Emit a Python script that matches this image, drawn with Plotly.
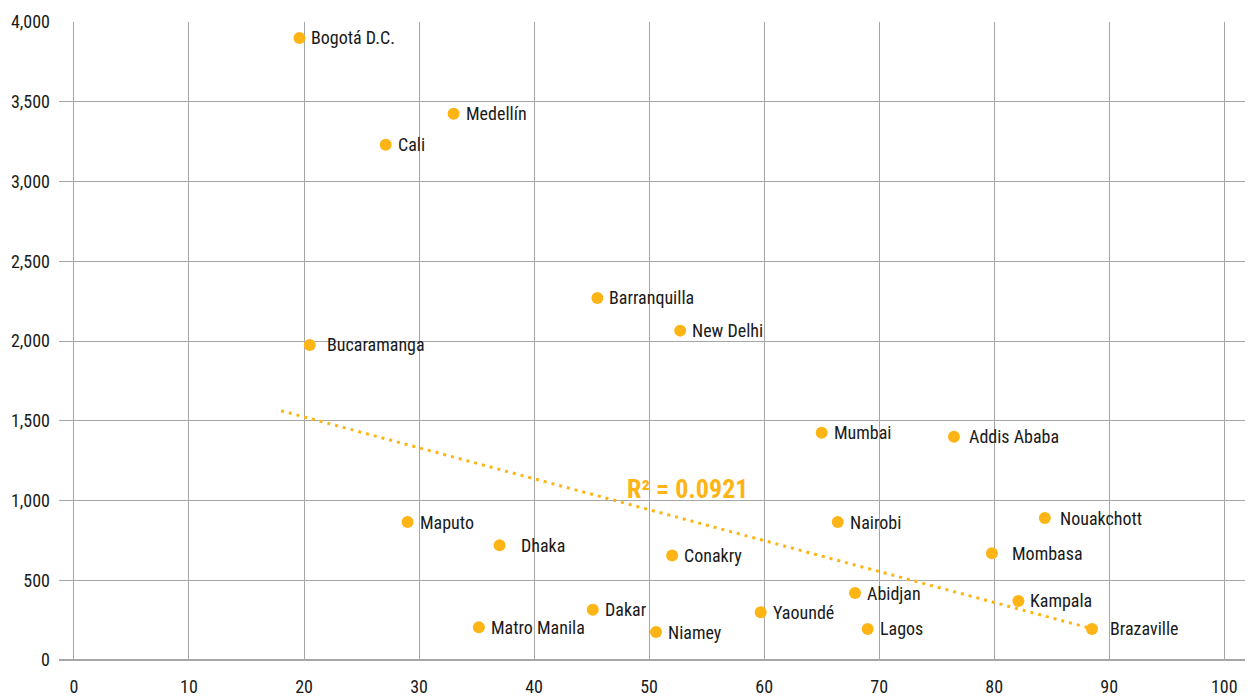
import plotly.graph_objects as go

cities = ["Bogotá D.C.", "Medellín", "Cali", "Barranquilla", "New Delhi", "Bucaramanga",
          "Mumbai", "Addis Ababa", "Maputo", "Nairobi", "Nouakchott", "Dhaka", "Conakry",
          "Mombasa", "Abidjan", "Kampala", "Dakar", "Yaoundé", "Matro Manila", "Niamey",
          "Lagos", "Brazaville"]
x_vals = [19.6, 33.0, 27.1, 45.5, 52.7, 20.5, 65.0, 76.5, 29.0, 66.4, 84.4, 37.0, 52.0,
          79.8, 67.9, 82.1, 45.1, 59.7, 35.2, 50.6, 69.0, 88.5]
y_vals = [3900, 3425, 3230, 2270, 2065, 1975, 1425, 1400, 865, 865, 890, 720, 655,
          670, 420, 370, 315, 300, 205, 175, 195, 195]
x_ticks = [0, 10, 20, 30, 40, 50, 60, 70, 80, 90, 100]
y_ticks = [0, 500, 1000, 1500, 2000, 2500, 3000, 3500, 4000]
trend_x = [18.0, 88.5]
trend_y = [1563, 196]
r2_label = "R² = 0.0921"

# label offsets (pixels) to the right of each marker
label_shift = {"Dhaka": 19, "Bucaramanga": 15, "Brazaville": 16, "Mombasa": 18,
               "Addis Ababa": 13, "Nouakchott": 13}

ORANGE = "#FDB515"
FONT = "Roboto Condensed, Liberation Sans Narrow, Roboto, sans-serif"

fig = go.Figure()
fig.add_trace(go.Scatter(x=trend_x, y=trend_y, mode="lines",
                         line=dict(color=ORANGE, width=3, dash="3px,5px"),
                         hoverinfo="skip", showlegend=False))
fig.add_trace(go.Scatter(x=x_vals, y=y_vals, mode="markers",
                         marker=dict(color=ORANGE, size=12),
                         text=cities, showlegend=False))

for c, xv, yv in zip(cities, x_vals, y_vals):
    fig.add_annotation(x=xv, y=yv, text=c, showarrow=False, xanchor="left",
                       yanchor="middle", xshift=label_shift.get(c, 10),
                       font=dict(family=FONT, size=18, color="#1a1a1a"))

fig.add_annotation(x=53.3, y=1072, text=r2_label, showarrow=False,
                   font=dict(family=FONT, size=26, color=ORANGE, weight="bold"))

fig.update_layout(
    width=1251, height=696,
    margin=dict(l=59, r=6, t=22, b=36, autoexpand=False),
    plot_bgcolor="white", paper_bgcolor="white",
    font=dict(family=FONT, size=18, color="#1a1a1a"),
)
fig.update_xaxes(range=[-1.3, 101.8], tickvals=x_ticks, showgrid=True,
                 gridcolor="#A6A6A6", gridwidth=1, zeroline=False, showline=False,
                 ticks="", ticklabelstandoff=14, automargin=False)
fig.update_yaxes(range=[0, 4000], tickvals=y_ticks, tickformat=",", showgrid=True,
                 gridcolor="#A6A6A6", gridwidth=1, zeroline=True, zerolinecolor="#A6A6A6",
                 zerolinewidth=1.5, showline=False, ticks="", ticklabelstandoff=8,
                 automargin=False)

fig.write_html("out.html", config={"displayModeBar": False},
               post_script="document.body.style.margin='0';document.body.style.overflow='hidden';")
